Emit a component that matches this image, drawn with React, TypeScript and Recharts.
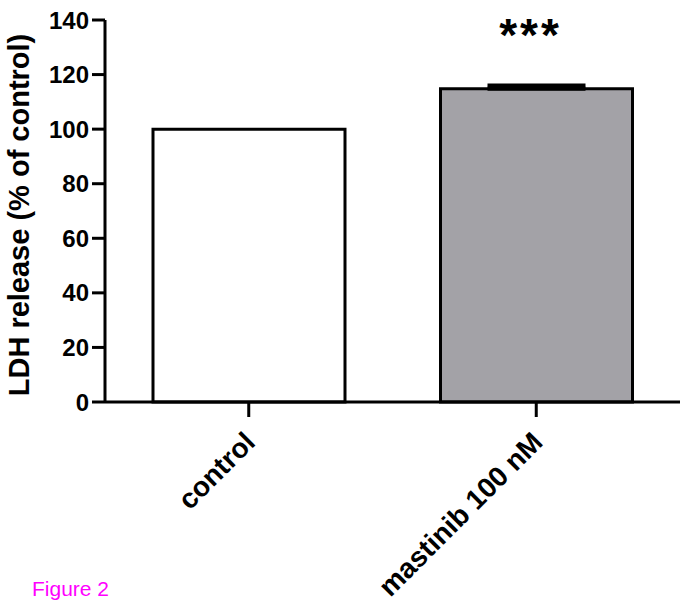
import * as React from "react";
import { BarChart, Bar, XAxis, YAxis, Cell, ErrorBar, LabelList } from "recharts";

const groups: string[] = ["control", "mastinib 100 nM"];
const ldhRelease: number[] = [100, 114.8];
const ldhErrUp: (number | null)[] = [null, 1.2];
const significance: string[] = ["", "***"];
const barFills: string[] = ["#ffffff", "#a3a2a7"];
const yTicks: number[] = [0, 20, 40, 60, 80, 100, 120, 140];

const data = groups.map((g, i) => ({
    name: g,
    value: ldhRelease[i],
    err: ldhErrUp[i] == null ? null : [0, ldhErrUp[i]],
    sig: significance[i],
}));

const FONT = "'Liberation Sans', Arial, Helvetica, sans-serif";

const XTick = (props: any) => {
    const { x, y, payload } = props;
    return (
        <g transform={`translate(${x + 8},${y + 25})`}>
            <text x={0} y={0} textAnchor="end" transform="rotate(-45)"
                fontFamily={FONT} fontWeight="bold" fontSize={28} fill="#000">
                {payload.value}
            </text>
        </g>
    );
};

const YLabel = (props: any) => {
    const { viewBox } = props;
    const cy = viewBox.y + viewBox.height / 2 + 4;
    return (
        <text x={29} y={cy} textAnchor="middle" transform={`rotate(-90, 29, ${cy})`}
            fontFamily={FONT} fontWeight="bold" fontSize={29} fill="#000">
            LDH release (% of control)
        </text>
    );
};

export default function App() {
    return (
        <div style={{ position: "absolute", left: 0, top: 0, width: 683, height: 608, background: "#fff" }}>
            <BarChart width={683} height={608} data={data}
                margin={{ top: 20, right: 3, left: 0, bottom: 0 }}>
                <XAxis dataKey="name" height={206} interval={0}
                    axisLine={{ stroke: "#000", strokeWidth: 3 }}
                    tickLine={{ stroke: "#000", strokeWidth: 3 }}
                    tickSize={15} tick={<XTick />} />
                <YAxis width={105} domain={[0, 140]} ticks={yTicks} interval={0}
                    axisLine={{ stroke: "#000", strokeWidth: 3 }}
                    tickLine={{ stroke: "#000", strokeWidth: 3 }}
                    tickSize={13} tickMargin={3}
                    tick={{ fill: "#000", fontSize: 24, fontWeight: "bold", fontFamily: FONT }}
                    label={<YLabel />} />
                <Bar dataKey="value" barSize={192} stroke="#000" strokeWidth={3} isAnimationActive={false}>
                    {data.map((d, i) => (
                        <Cell key={d.name} fill={barFills[i]} />
                    ))}
                    <ErrorBar dataKey="err" width={49} stroke="#000" strokeWidth={4} direction="y" />
                    <LabelList dataKey="sig" position="top" offset={38} dx={-6}
                        style={{ fill: "#000", fontSize: 46, fontWeight: "bold", fontFamily: FONT, letterSpacing: 3 }} />
                </Bar>
            </BarChart>
            <div style={{ position: "absolute", left: 32, top: 577, fontFamily: FONT, fontSize: 21, color: "#ff00ff" }}>
                Figure 2
            </div>
        </div>
    );
}
